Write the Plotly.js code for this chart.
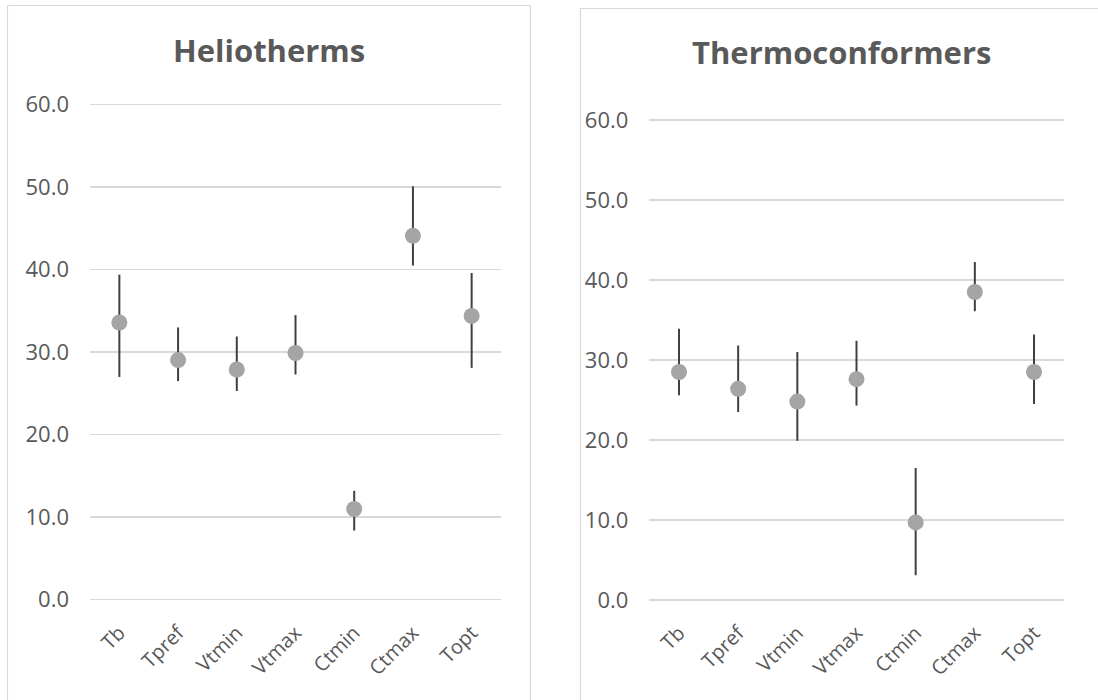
<!DOCTYPE html>
<html>
<head>
<meta charset="utf-8">
<script src="https://cdn.plot.ly/plotly-3.0.1.min.js"></script>
<style>
  html, body { margin: 0; padding: 0; background: #ffffff; }
  #chart { width: 1098px; height: 700px; }
</style>
</head>
<body>
<div id="chart"></div>
<script>
// ---- Data ----
const categories = ['Tb', 'Tpref', 'Vtmin', 'Vtmax', 'Ctmin', 'Ctmax', 'Topt'];

const helioMean  = [33.6, 29.05, 27.9, 29.9, 11.0, 44.1, 34.4];
const helioUpper = [39.4, 33.0, 31.9, 34.5, 13.2, 50.1, 39.6];
const helioLower = [27.0, 26.5, 25.3, 27.3, 8.4, 40.5, 28.1];

const thermoMean  = [28.5, 26.4, 24.8, 27.6, 9.7, 38.5, 28.5];
const thermoUpper = [33.9, 31.8, 31.0, 32.4, 16.5, 42.25, 33.2];
const thermoLower = [25.6, 23.5, 19.9, 24.3, 3.1, 36.1, 24.5];

const yTickVals = [0, 10, 20, 30, 40, 50, 60];
const titles = ['Heliotherms', 'Thermoconformers'];

// ---- Build ----
const W = 1098, H = 700;
const px = v => v / W;
const py = v => 1 - v / H;

function makeTrace(mean, upper, lower, xa, ya) {
  return {
    type: 'scatter', mode: 'markers',
    x: categories, y: mean, xaxis: xa, yaxis: ya,
    marker: { size: 16, color: '#a5a5a5' },
    error_y: {
      type: 'data', symmetric: false,
      array: upper.map((u, i) => u - mean[i]),
      arrayminus: mean.map((m, i) => m - lower[i]),
      color: '#404040', thickness: 2, width: 0
    },
    hoverinfo: 'x+y', showlegend: false, cliponaxis: false
  };
}

const traces = [
  makeTrace(helioMean, helioUpper, helioLower, 'x', 'y'),
  makeTrace(thermoMean, thermoUpper, thermoLower, 'x2', 'y2')
];

const tickFont = { family: 'Open Sans, sans-serif', size: 22, color: '#595959' };
const xTickFont = { family: 'Open Sans, sans-serif', size: 20, color: '#595959' };

function xAxis(domain, anchor) {
  return {
    domain: domain, anchor: anchor, type: 'category',
    range: [-0.5, categories.length - 0.5],
    showgrid: false, zeroline: false, showline: false, ticks: '',
    tickangle: -45, tickfont: xTickFont, ticklabelstandoff: 14,
    automargin: false, fixedrange: true
  };
}
function yAxis(domain, anchor) {
  return {
    domain: domain, anchor: anchor,
    range: [-0.3, 60.3],
    tickvals: yTickVals, tickformat: '.1f',
    showgrid: true, gridcolor: '#d9d9d9', gridwidth: 1.5,
    zeroline: false, showline: false, ticks: '',
    tickfont: tickFont, ticklabelstandoff: 20,
    automargin: false, fixedrange: true
  };
}

const layout = {
  width: W, height: H,
  margin: { l: 0, r: 0, t: 0, b: 0 },
  paper_bgcolor: '#ffffff', plot_bgcolor: 'rgba(0,0,0,0)',
  xaxis:  xAxis([px(90), px(501)], 'y'),
  yaxis:  yAxis([py(602.2), py(102.2)], 'x'),
  xaxis2: xAxis([px(649.4), px(1063.6)], 'y2'),
  yaxis2: yAxis([py(602.4), py(117.6)], 'x2'),
  shapes: [
    { type: 'rect', xref: 'paper', yref: 'paper',
      x0: px(7.5), x1: px(530.5), y0: py(5.5), y1: py(720),
      line: { color: '#d9d9d9', width: 1.2 }, fillcolor: 'rgba(0,0,0,0)', layer: 'below' },
    { type: 'rect', xref: 'paper', yref: 'paper',
      x0: px(580.5), x1: px(1120), y0: py(8.5), y1: py(720),
      line: { color: '#d9d9d9', width: 1.2 }, fillcolor: 'rgba(0,0,0,0)', layer: 'below' }
  ],
  annotations: [
    { text: '<b>' + titles[0] + '</b>', xref: 'paper', yref: 'paper',
      x: px(269), y: py(50), xanchor: 'center', yanchor: 'middle', showarrow: false,
      font: { family: 'Open Sans, sans-serif', size: 31, color: '#595959' } },
    { text: '<b>' + titles[1] + '</b>', xref: 'paper', yref: 'paper',
      x: px(841), y: py(52), xanchor: 'center', yanchor: 'middle', showarrow: false,
      font: { family: 'Open Sans, sans-serif', size: 31, color: '#595959' } }
  ]
};

Plotly.newPlot('chart', traces, layout, { displayModeBar: false, staticPlot: true });
</script>
</body>
</html>
